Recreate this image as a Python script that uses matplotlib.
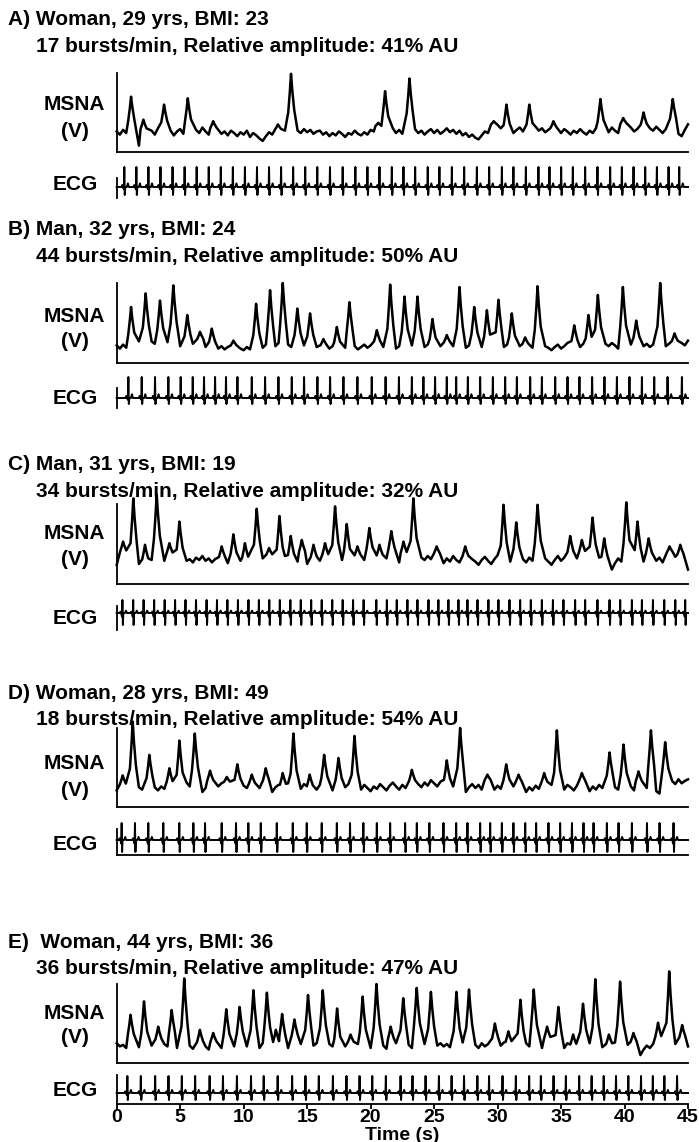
import numpy as np
import matplotlib
matplotlib.use("Agg")
import matplotlib.pyplot as plt

plt.rcParams['font.family'] = ['Liberation Sans', 'DejaVu Sans']
plt.rcParams['font.weight'] = 'bold'

W, H = 699, 1142
STEP = 0.25      # baseline sample interval (s)
T_END = 45

# ---------------- panel A ----------------
a_title = "A) Woman, 29 yrs, BMI: 23"
a_sub = "17 bursts/min, Relative amplitude: 41% AU"
a_base = [26, 22, 28, 24, 30, 27, 21, 8, 24, 29, 23, 27, 22, 30, 25, 28,
          24, 27, 21, 26, 29, 23, 27, 25, 22, 28, 24, 31, 26, 22, 27, 24,
          29, 23, 26, 21, 27, 24, 20, 25, 22, 27, 19, 24, 21, 17, 14, 20,
          25, 22, 28, 26, 30, 27, 33, 29, 31, 27, 24, 29, 25, 28, 23, 26,
          27, 22, 25, 20, 24, 21, 26, 23, 19, 24, 22, 27, 23, 21, 25, 22,
          28, 26, 31, 29, 33, 28, 26, 30, 24, 28, 23, 27, 30, 25, 29, 24,
          27, 22, 26, 29, 24, 28, 23, 26, 30, 25, 28, 23, 27, 21, 24, 19,
          22, 18, 16, 21, 26, 24, 29, 33, 28, 30, 25, 23, 27, 24, 28, 31,
          26, 29, 24, 28, 32, 27, 30, 25, 28, 23, 27, 30, 24, 29, 26, 22,
          27, 24, 29, 25, 22, 27, 24, 30, 26, 23, 28, 25, 31, 27, 24, 29,
          33, 28, 31, 26, 29, 34, 28, 25, 30, 27, 32, 28, 24, 29, 26, 31,
          27, 23, 20, 28, 35]
a_burst_t = [1.13, 2.1, 3.73, 5.6, 7.6, 12.7, 13.73, 20.6, 21.14, 23.06,
             29.7, 30.7, 32.5, 34.4, 38.1, 39.9, 41.5, 43.8]
a_burst_v = [70, 41, 60, 68, 39, 35, 99, 37, 77, 93,
             39, 60, 60, 39, 67, 43, 50, 67]
a_beats = [0.6, 1.55, 2.5, 3.45, 4.4, 5.35, 6.3, 7.25, 8.2, 9.15, 10.1, 11.05,
           12.0, 12.95, 13.9, 14.85, 15.8, 16.8, 17.8, 18.8, 19.75, 20.7,
           21.67, 22.59, 23.51, 24.5, 25.42, 26.4, 27.37, 28.37, 29.34, 30.34,
           31.25, 32.23, 33.22, 34.09, 35.01, 35.93, 36.9, 37.87, 38.87, 39.79,
           40.71, 41.63, 42.55, 43.47, 44.31]

# ---------------- panel B ----------------
b_title = "B) Man, 32 yrs, BMI: 24"
b_sub = "44 bursts/min, Relative amplitude: 50% AU"
b_base = [22, 18, 23, 19, 25, 21, 24, 27, 23, 26, 22, 27, 24, 28, 25, 22,
          26, 23, 28, 24, 21, 25, 22, 19, 24, 21, 26, 23, 20, 24, 19, 22,
          18, 21, 17, 20, 23, 19, 22, 18, 16, 20, 17, 21, 18, 22, 19, 23,
          20, 24, 21, 25, 22, 19, 23, 20, 24, 21, 26, 22, 25, 21, 24, 20,
          23, 19, 22, 18, 21, 17, 20, 16, 19, 22, 18, 21, 17, 20, 23, 19,
          22, 18, 21, 24, 20, 23, 19, 22, 18, 21, 17, 20, 19, 22, 18, 21,
          24, 20, 23, 19, 22, 18, 21, 25, 22, 26, 21, 24, 20, 23, 19, 22,
          25, 21, 24, 20, 23, 19, 22, 18, 21, 17, 20, 23, 19, 22, 18, 21,
          24, 20, 23, 19, 22, 18, 17, 21, 19, 16, 20, 23, 18, 21, 25, 22,
          19, 23, 20, 24, 21, 18, 22, 19, 23, 20, 24, 21, 25, 22, 18, 21,
          17, 20, 23, 19, 22, 18, 21, 24, 20, 23, 19, 22, 18, 21, 24, 20,
          23, 19, 25, 22, 28]
b_burst_t = [1.13, 2.28, 3.41, 4.46, 5.56, 6.56, 7.49, 9.19, 10.98, 12.08,
             13.08, 14.23, 15.23, 16.28, 17.34, 18.33, 20.49, 21.54, 22.67,
             23.69, 24.87, 26.0, 27.0, 28.16, 29.16, 30.07, 31.12, 32.17,
             33.15, 36.04, 37.16, 37.9, 39.87, 40.92, 42.81, 43.94]
b_burst_v = [70, 87, 78, 97, 60, 39, 43, 28, 74, 91,
             100, 68, 62, 30, 45, 76, 41, 98, 83,
             83, 55, 35, 95, 70, 66, 79, 62, 32,
             96, 47, 60, 85, 95, 53, 100, 37]
b_beats = [0.92, 1.97, 3.02, 4.07, 5.04, 5.99, 6.88, 7.75, 8.61, 9.51, 10.64,
           11.69, 12.74, 13.79, 14.76, 15.81, 16.81, 17.86, 18.96, 20.09,
           21.18, 22.23, 23.25, 24.16, 25.08, 26.0, 26.74, 27.66, 28.63,
           29.63, 30.6, 31.52, 32.57, 33.49, 34.54, 35.51, 36.45, 37.45,
           38.42, 39.4, 40.39, 41.37, 42.34, 43.39, 44.52]

# ---------------- panel C ----------------
c_title = "C) Man, 31 yrs, BMI: 19"
c_sub = "34 bursts/min, Relative amplitude: 32% AU"
c_base = [24, 30, 36, 28, 33, 27, 31, 25, 29, 23, 35, 30, 26, 32, 24, 29,
          27, 33, 25, 22, 28, 34, 29, 31, 27, 33, 30, 35, 29, 32, 27, 31,
          34, 28, 32, 26, 30, 27, 33, 29, 25, 31, 28, 34, 30, 26, 32, 28,
          33, 27, 31, 25, 29, 35, 30, 26, 32, 28, 34, 29, 25, 31, 27, 33,
          29, 35, 30, 26, 32, 28, 24, 30, 27, 33, 29, 25, 31, 36, 30, 27,
          33, 28, 24, 30, 26, 32, 29, 35, 31, 27, 33, 29, 25, 31, 35, 29,
          33, 30, 35, 31, 28, 34, 30, 26, 32, 28, 35, 30, 27, 33, 29, 25,
          31, 28, 24, 30, 34, 29, 25, 31, 36, 30, 26, 32, 28, 34, 29, 25,
          31, 27, 33, 29, 35, 30, 26, 32, 28, 24, 30, 35, 29, 33, 27, 31,
          26, 32, 28, 34, 30, 25, 31, 27, 33, 29, 24, 30, 18, 26, 32, 28,
          34, 29, 25, 31, 27, 33, 28, 24, 30, 35, 29, 33, 27, 31, 36, 30,
          34, 28, 32, 24, 18]
c_burst_t = [0.5, 1.31, 2.23, 3.15, 4.15, 4.94, 8.27, 9.19, 10.1, 11.03,
             12.0, 12.82, 13.71, 14.58, 15.5, 16.41, 17.2, 18.12, 18.96,
             19.9, 20.7, 21.63, 22.59, 23.37, 25.2, 27.45, 30.47, 31.47,
             33.15, 35.72, 36.64, 37.48, 38.4, 40.14, 41.02, 41.9, 43.55,
             44.39]
c_burst_v = [53, 107, 49, 112, 51, 78, 47, 62, 51, 94,
             45, 85, 60, 55, 49, 51, 97, 75, 47,
             70, 49, 66, 53, 107, 47, 47, 99, 77,
             99, 60, 55, 83, 57, 102, 78, 57, 47,
             49]
c_beats = [0.45, 1.3, 2.12, 2.95, 3.78, 4.6, 5.42, 6.25, 7.08, 7.9, 8.72,
           9.55, 10.38, 11.2, 12.02, 12.85, 13.68, 14.5, 15.32, 16.15, 16.98,
           17.8, 18.62, 19.45, 20.45, 21.28, 22.06, 22.9, 23.69, 24.56,
           25.34, 26.13, 26.92, 27.63, 28.42, 29.28, 30.07, 30.94, 31.78,
           32.62, 33.49, 34.36, 35.19, 36.11, 36.9, 37.87, 38.82, 39.66,
           40.58, 41.37, 42.24, 43.13, 44.0, 44.78]

# ---------------- panel D ----------------
d_title = "D) Woman, 28 yrs, BMI: 49"
d_sub = "18 bursts/min, Relative amplitude: 54% AU"
d_base = [21, 30, 24, 19, 27, 23, 28, 25, 22, 27, 24, 29, 25, 21, 26, 23,
          28, 24, 20, 25, 22, 27, 31, 26, 22, 27, 23, 19, 24, 28, 25, 21,
          26, 30, 25, 29, 24, 20, 26, 22, 27, 24, 20, 25, 29, 24, 21, 27,
          23, 19, 25, 28, 22, 26, 30, 24, 21, 27, 23, 29, 25, 20, 26, 22,
          28, 24, 30, 25, 21, 27, 23, 19, 25, 29, 24, 20, 26, 22, 28, 24,
          20, 26, 23, 29, 25, 21, 27, 31, 26, 22, 28, 24, 30, 27, 33, 29,
          25, 31, 27, 34, 30, 26, 32, 28, 24, 30, 26, 21, 27, 23, 19, 25,
          29, 24, 28, 22, 27, 31, 26, 22, 27, 23, 29, 25, 20, 26, 22, 28,
          24, 19, 25, 21, 27, 23, 20, 26, 22, 28, 24, 20, 26, 22, 28, 25,
          21, 27, 23, 29, 25, 20, 26, 22, 28, 24, 21, 27, 30, 25, 22, 28,
          24, 30, 26, 21, 27, 33, 28, 24, 29, 25, 20, 17, 26, 31, 27, 33,
          29, 35, 30, 33, 35]
d_burst_t = [0.47, 1.26, 2.57, 4.15, 4.94, 6.15, 7.35, 8.67, 9.5, 10.64,
             11.74, 13.08, 13.92, 15.2, 16.34, 17.47, 18.73, 23.25, 26.0,
             27.05, 29.2, 30.68, 31.65, 33.67, 34.67, 36.64, 38.82, 39.92,
             41.1, 42.08, 43.2]
d_burst_v = [40, 108, 66, 49, 84, 93, 46, 38, 54, 41,
             49, 43, 93, 41, 66, 62, 90, 47, 59,
             100, 41, 54, 41, 43, 97, 43, 69, 79,
             45, 97, 82]
d_beats = [0.39, 1.44, 2.49, 3.67, 4.93, 6.04, 6.96, 8.27, 9.4, 10.37, 11.35,
           12.61, 13.87, 14.97, 16.15, 17.34, 18.38, 19.43, 20.49, 21.54,
           22.72, 23.64, 24.63, 25.74, 26.74, 27.63, 28.63, 29.42, 30.34,
           31.25, 32.18, 33.04, 34.01, 34.93, 35.86, 36.77, 37.56, 38.61,
           39.53, 40.58, 41.77, 42.76, 43.86]

# ---------------- panel E ----------------
e_title = "E)  Woman, 44 yrs, BMI: 36"
e_sub = "36 bursts/min, Relative amplitude: 47% AU"
e_base = [25, 21, 23, 19, 24, 22, 26, 20, 23, 19, 25, 22, 27, 23, 20, 24,
          21, 25, 22, 19, 24, 20, 26, 22, 18, 23, 20, 25, 21, 17, 22, 26,
          22, 19, 24, 20, 25, 21, 18, 23, 26, 21, 24, 20, 23, 19, 25, 22,
          18, 23, 20, 25, 21, 24, 19, 22, 26, 21, 24, 20, 23, 18, 22, 25,
          20, 23, 19, 24, 21, 14, 20, 24, 21, 25, 22, 19, 24, 20, 26, 22,
          19, 24, 21, 25, 22, 18, 23, 20, 25, 21, 24, 20, 23, 19, 22, 26,
          21, 24, 19, 23, 17, 22, 25, 21, 24, 20, 23, 19, 22, 26, 21, 24,
          20, 23, 19, 25, 21, 24, 20, 23, 19, 22, 26, 21, 24, 20, 23, 19,
          22, 25, 21, 24, 20, 23, 19, 22, 26, 21, 24, 20, 23, 19, 25, 22,
          18, 23, 20, 24, 21, 25, 22, 19, 24, 20, 23, 19, 22, 26, 21, 24,
          20, 23, 19, 22, 14, 10, 17, 22, 19, 24, 21, 25, 22, 26, 23, 20,
          24, 21, 26, 23, 21]
e_burst_t = [1.09, 2.15, 3.27, 4.33, 5.32, 6.55, 7.6, 8.63, 9.68, 10.77,
             11.83, 12.54, 13.03, 14.0, 15.07, 16.23, 17.36, 18.42, 19.37,
             20.46, 21.58, 22.57, 23.63, 24.75, 26.76, 27.75, 29.79, 30.85,
             31.8, 32.85, 33.9, 34.79, 35.95, 36.73, 37.7, 38.77, 39.65,
             40.7, 42.64, 43.52, 44.54]
e_burst_v = [61, 78, 46, 67, 107, 42, 38, 68, 71, 92,
             89, 42, 62, 55, 86, 92, 69, 36, 84,
             100, 46, 82, 95, 90, 90, 93, 50, 40,
             80, 93, 46, 71, 36, 75, 106, 36, 103,
             38, 51, 116, 48]
e_beats = [0.84, 1.9, 3.03, 4.08, 5.13, 6.18, 7.32, 8.37, 9.47, 10.58, 11.58,
           12.68, 13.82, 14.87, 15.92, 17.03, 18.1, 19.13, 20.13, 21.2,
           22.36, 23.3, 24.33, 25.38, 26.38, 27.36, 28.41, 29.33, 30.39,
           31.44, 32.49, 33.41, 34.41, 35.38, 36.43, 37.41, 38.36, 39.33,
           40.3, 41.3, 42.23, 43.14, 44.14]

xticks = [0, 5, 10, 15, 20, 25, 30, 35, 40, 45]

# burst outline relative to the peak: (time offset s, fraction of height above local baseline)
BURST_SHAPE = [(-0.22, 0.3), (-0.1, 0.65), (0.0, 1.0), (0.1, 0.7), (0.25, 0.35)]
BURST_GAP = (-0.33, 0.42)
# one heart beat: (time offset s, +fraction of R height / -fraction of S depth)
ECG_SHAPE = [(-0.22, 0.0), (-0.16, 0.1), (-0.1, 0.0), (-0.035, -0.3),
             (0.0, 1.0), (0.035, -1.0), (0.075, 0.0), (0.2, 0.0),
             (0.28, 0.18), (0.36, 0.0)]

X0, X1 = 116.7, 688.0


def px_axes(fig, y0, y1):
    return fig.add_axes([X0 / W, 1 - y1 / H, (X1 - X0) / W, (y1 - y0) / H])


def msna_trace(base, burst_t, burst_v):
    t = np.arange(len(base)) * STEP
    v = np.asarray(base, float)
    keep = np.ones(len(t), bool)
    pts_t, pts_v = [], []
    for bt, bv in zip(burst_t, burst_v):
        keep &= ~((t > bt + BURST_GAP[0]) & (t < bt + BURST_GAP[1]))
        b0 = v[min(int(round(bt / STEP)), len(v) - 1)]
        for dt, f in BURST_SHAPE:
            pts_t.append(bt + dt)
            pts_v.append(b0 + f * (bv - b0))
    tt = np.concatenate([t[keep], pts_t])
    vv = np.concatenate([v[keep], pts_v])
    order = np.argsort(tt)
    return tt[order], vv[order]


def ecg_trace(beats, up, down):
    tt, vv = [0.0], [0.0]
    for b in beats:
        for dt, f in ECG_SHAPE:
            if 0 <= b + dt <= T_END:
                tt.append(b + dt)
                vv.append(f * up if f >= 0 else f * down)
    tt.append(T_END)
    vv.append(0.0)
    return tt, vv


fig = plt.figure(figsize=(W / 100, H / 100), dpi=100)
FS = 15
LW_SP = 1.3

panels = [
    # title, sub, base, burst t, burst v, beats, layout (pixel rows)
    (a_title, a_sub, a_base, a_burst_t, a_burst_v, a_beats,
     dict(t1=25, t2=52, m0=73, m1=152, lab=110, v=137, e0=178, e1=198, eb=187, up=20, dn=8, ecg=190, ebot=False)),
    (b_title, b_sub, b_base, b_burst_t, b_burst_v, b_beats,
     dict(t1=235, t2=262, m0=283, m1=363, lab=322, v=347, e0=388, e1=408, eb=398, up=21, dn=6, ecg=404, ebot=False)),
    (c_title, c_sub, c_base, c_burst_t, c_burst_v, c_beats,
     dict(t1=470, t2=497, m0=504, m1=584, lab=539, v=565, e0=606, e1=630, eb=613, up=13, dn=12, ecg=624, ebot=False)),
    (d_title, d_sub, d_base, d_burst_t, d_burst_v, d_beats,
     dict(t1=699, t2=725, m0=728, m1=807, lab=769, v=796, e0=829, e1=855, eb=840, up=17, dn=12, ecg=850, ebot=True)),
    (e_title, e_sub, e_base, e_burst_t, e_burst_v, e_beats,
     dict(t1=948, t2=974, m0=984, m1=1063, lab=1019, v=1043, e0=1075, e1=1104, eb=1093, up=17, dn=7, ecg=1096, ebot=True)),
]

for k, (title, sub, base, bt, bv, beats, L) in enumerate(panels):
    fig.text(8 / W, 1 - L['t1'] / H, title, fontsize=FS, fontweight='bold', va='baseline')
    fig.text(36 / W, 1 - L['t2'] / H, sub, fontsize=FS, fontweight='bold', va='baseline')
    fig.text(74 / W, 1 - L['lab'] / H, "MSNA", fontsize=FS, fontweight='bold', ha='center', va='baseline')
    fig.text(75 / W, 1 - L['v'] / H, "(V)", fontsize=FS, fontweight='bold', ha='center', va='baseline')
    fig.text(75 / W, 1 - L['ecg'] / H, "ECG", fontsize=FS, fontweight='bold', ha='center', va='baseline')

    ax = px_axes(fig, L['m0'], L['m1'])
    t, v = msna_trace(base, bt, bv)
    ax.plot(t, v, color='black', lw=1.8, clip_on=False)
    ax.set_xlim(0, T_END)
    ax.set_ylim(0, 100)
    for s in ['top', 'right']:
        ax.spines[s].set_visible(False)
    for s in ['left', 'bottom']:
        ax.spines[s].set_linewidth(LW_SP)
    ax.set_xticks([])
    ax.set_yticks([])
    ax.patch.set_alpha(0)

    ex = px_axes(fig, L['e0'], L['e1'])
    et, ev = ecg_trace(beats, L['up'], L['dn'])
    ex.plot(et, ev, color='black', lw=1.4, clip_on=False)
    ex.set_xlim(0, T_END)
    ex.set_ylim(-(L['e1'] - L['eb']), L['eb'] - L['e0'])
    for s in ['top', 'right']:
        ex.spines[s].set_visible(False)
    ex.spines['left'].set_linewidth(LW_SP)
    ex.spines['bottom'].set_linewidth(LW_SP)
    ex.spines['bottom'].set_visible(L['ebot'])
    ex.set_yticks([])
    ex.patch.set_alpha(0)
    if k == len(panels) - 1:
        ex.set_xticks(xticks)
        ex.set_xticklabels([str(x) for x in xticks], fontsize=14, fontweight='bold')
        ex.tick_params(axis='x', direction='out', length=3.5, width=LW_SP, pad=0)
    else:
        ex.set_xticks([])

fig.text((X0 + X1) / 2 / W, 1 - 1140 / H, "Time (s)", fontsize=14, fontweight='bold',
         ha='center', va='baseline')

fig.savefig("out.png", dpi=100)
